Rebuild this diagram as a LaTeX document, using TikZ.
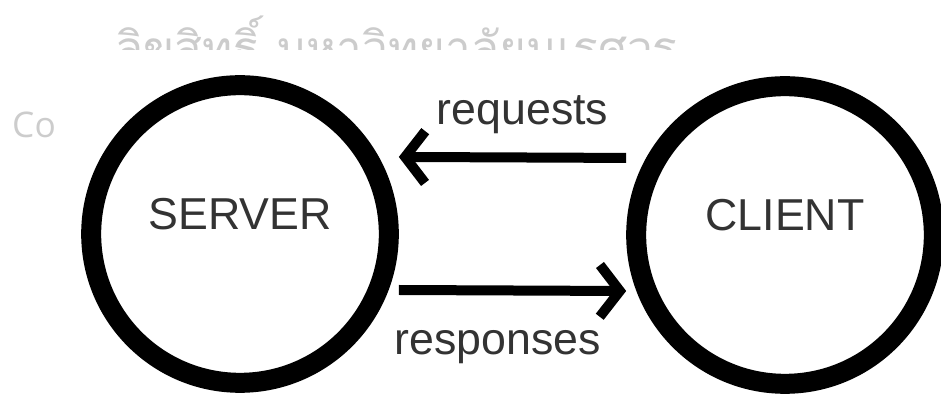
\documentclass[tikz,border=0pt]{standalone}
\usepackage{fontspec}
\setmainfont{Liberation Sans}
\newfontfamily\thaifont[Script=Thai]{Loma}
\newfontfamily\pagefont{Open Sans}
\usetikzlibrary{arrows.meta}

\begin{document}
\begin{tikzpicture}[x=0.85pt,y=-0.85pt]
    \tikzset{vertex/.style = {shape=circle, draw, line width=17pt, minimum size=253pt, inner sep=0pt, text depth=34pt, text=black!80, font=\fontsize{38}{42}\selectfont}}
    \tikzset{edge/.style = {draw, line width=8.5pt, -{Straight Barb[length=17pt,width=44pt,line width=8.5pt]}}}
    \tikzset{edgetext/.style = {inner sep=0pt, text=black!80, font=\fontsize{38}{42}\selectfont}}
    \tikzset{pagetext/.style = {inner sep=0pt, text=black!20}}

    \useasboundingbox (0,0) rectangle (941,396);

    % page behind
    \node[pagetext, anchor=base west, font=\thaifont\fontsize{39}{44}\selectfont] (heading) at (115,65) {ลิขสิทธิ์ มหาวิทยาลัยนเรศวร};
    \node[pagetext, anchor=base west, font=\pagefont\fontsize{30}{36}\selectfont] (side) at (12,138) {Co};
    \fill[white] (57,50) rectangle (941,396);

    % vertices
    \node[vertex] (server) at (240,234) {SERVER};
    \node[vertex] (client) at (785,235) {CLIENT};

    % edges
    \draw [edge] ([yshift=65.5pt]client.west) -- node[midway, above=16pt, xshift=8.5pt, edgetext]{requests} ([yshift=65.5pt]server.east);
    \draw [edge] ([yshift=-47.6pt]server.east) -- node[midway, below=30pt, xshift=-12.7pt, edgetext]{responses} ([yshift=-47.6pt]client.west);
\end{tikzpicture}
\end{document}
